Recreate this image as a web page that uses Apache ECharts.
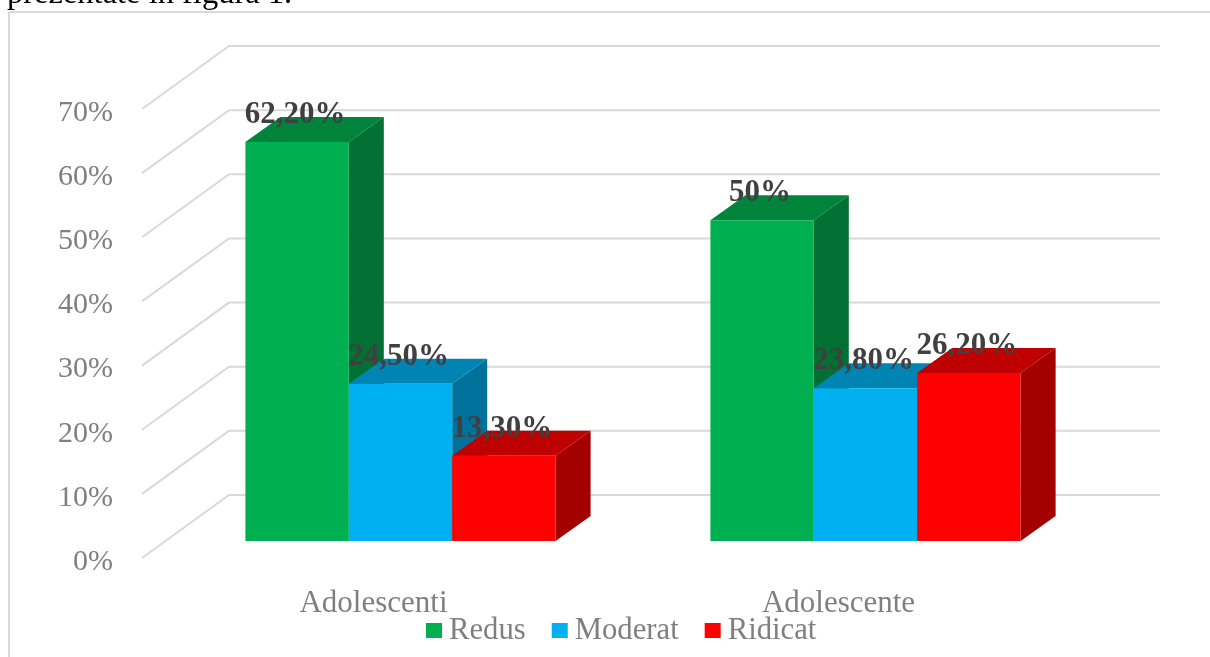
<!DOCTYPE html>
<html><head><meta charset="utf-8">
<style>html,body{margin:0;padding:0;background:#fff}#c{width:1210px;height:657px}</style>
<script src="https://cdn.jsdelivr.net/npm/echarts@6/dist/echarts.min.js"></script>
</head><body><div id="c"></div>
<script>
const categories = ['Adolescenti', 'Adolescente'];
const seriesNames = ['Redus', 'Moderat', 'Ridicat'];
const redus = [62.2, 50];
const moderat = [24.5, 23.8];
const ridicat = [13.3, 26.2];
const redusLabels = ['62,20%', '50%'];
const moderatLabels = ['24,50%', '23,80%'];
const ridicatLabels = ['13,30%', '26,20%'];
const yTicks = [0, 10, 20, 30, 40, 50, 60, 70];

const FONT = '"Liberation Serif", serif';
const front = ['#00B050', '#00B0F0', '#FF0000'];
const top_ = ['#00843C', '#0084B4', '#BF0000'];
const side = ['#007033', '#00719A', '#A30000'];
const BAR_W = 103.4, DX = 35, DY = 25, OFF_X = 27, OFF_Y = 17;
const WALL_X = 87, WALL_Y = 63, GRID_W = 931;

function barSeries(si, values, labels) {
  return {
    name: seriesNames[si], type: 'custom', coordinateSystem: 'cartesian2d',
    itemStyle: { color: front[si] }, z: 5, silent: true,
    encode: { x: 0, y: 1 },
    data: values.map((v, i) => [i, v, labels[i]]),
    renderItem(params, api) {
      const i = api.value(0), v = api.value(1);
      const t = api.coord([i, v]), b = api.coord([i, 0]);
      const x = t[0] + OFF_X + (si - 1.5) * BAR_W, x2 = x + BAR_W;
      const y = t[1] - OFF_Y, y0 = b[1] - OFF_Y;
      const poly = (pts, c) => ({ type: 'polygon', shape: { points: pts }, style: { fill: c } });
      return { type: 'group', children: [
        poly([[x2, y], [x2 + DX, y - DY], [x2 + DX, y0 - DY], [x2, y0]], side[si]),
        poly([[x, y], [x + DX, y - DY], [x2 + DX, y - DY], [x2, y]], top_[si]),
        poly([[x, y], [x2, y], [x2, y0], [x, y0]], front[si]),
        { type: 'text', z2: 100, x: (x + x2) / 2 - 2, y: y - 27,
          style: { text: labels[i], font: 'bold 31px ' + FONT, fill: '#404040', align: 'center', verticalAlign: 'middle' } }
      ] };
    }
  };
}

const chart = echarts.init(document.getElementById('c'), null, { renderer: 'canvas' });
chart.setOption({
  animation: false,
  backgroundColor: '#fff',
  grid: { left: 141, top: 109, width: 930, height: 449 },
  xAxis: { type: 'category', data: categories, axisLine: { show: false }, axisTick: { show: false }, splitLine: { show: false },
    axisLabel: { margin: 30, fontFamily: FONT, fontSize: 31, color: '#7f7f7f' } },
  yAxis: { type: 'value', min: 0, max: 70, interval: 10, axisLine: { show: false }, axisTick: { show: false }, splitLine: { show: false },
    axisLabel: { margin: 28, fontFamily: FONT, fontSize: 30, color: '#7f7f7f', verticalAlign: 'top', lineHeight: 8, formatter: '{value}%' } },
  legend: { data: seriesNames, left: 421, top: 610, icon: 'rect', itemWidth: 16, itemHeight: 15, itemGap: 26, selectedMode: false,
    textStyle: { fontFamily: FONT, fontSize: 30.7, color: '#7f7f7f', padding: [0, 0, 0, 2] } },
  graphic: [
    { type: 'line', silent: true, shape: { x1: 9, y1: 12, x2: 1210, y2: 12 }, style: { stroke: '#d9d9d9', lineWidth: 2 } },
    { type: 'line', silent: true, shape: { x1: 9, y1: 12, x2: 9, y2: 657 }, style: { stroke: '#d9d9d9', lineWidth: 2 } },
    { type: 'text', silent: true, x: 7, y: 11, style: { text: 'prezentate în figura 1.', font: '32.5px ' + FONT, fill: '#000', verticalAlign: 'bottom' } }
  ],
  series: [
    { name: 'grid', type: 'custom', silent: true, z: 1, encode: { y: 0 },
      data: yTicks.map(v => [v]),
      renderItem(params, api) {
        const y = api.coord([0, api.value(0)])[1];
        const x0 = params.coordSys.x + 1;
        return { type: 'polyline', shape: { points: [[x0, y], [x0 + WALL_X, y - WALL_Y], [x0 + WALL_X + GRID_W, y - WALL_Y]] },
          style: { stroke: '#d9d9d9', lineWidth: 2, fill: 'none' } };
      } },
    barSeries(0, redus, redusLabels),
    barSeries(1, moderat, moderatLabels),
    barSeries(2, ridicat, ridicatLabels)
  ]
});
</script></body></html>
